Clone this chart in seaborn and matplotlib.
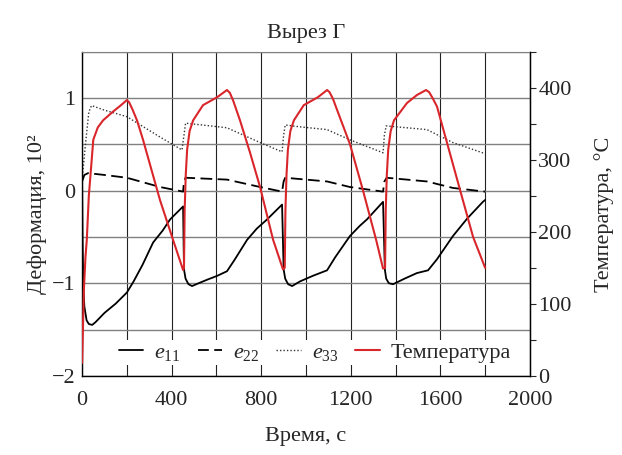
import numpy as np
import pandas as pd
import matplotlib
matplotlib.use("Agg")
import matplotlib.pyplot as plt
import seaborn as sns
from matplotlib.ticker import MultipleLocator
from matplotlib.lines import Line2D

sns.set_style("white")
plt.rcParams["font.family"] = ["Liberation Serif", "DejaVu Serif"]
plt.rcParams["mathtext.fontset"] = "custom"
plt.rcParams["mathtext.rm"] = "Liberation Serif"
plt.rcParams["mathtext.it"] = "Liberation Serif:italic"

# ---- data ----
t_e11 = [0, 2, 5, 10, 20, 30, 45, 60, 100, 150, 200, 230, 270, 317, 360, 393, 451,
         455, 462, 475, 491, 520, 560, 603, 647, 680, 737, 780, 826, 893,
         900, 907, 920, 938, 973, 1030, 1094, 1130, 1196, 1240, 1272, 1344,
         1352, 1358, 1370, 1389, 1440, 1495, 1545, 1585, 1656, 1720, 1790, 1800]
e11 = [0.12, -0.5, -1.0, -1.25, -1.4, -1.44, -1.45, -1.42, -1.32, -1.22, -1.10, -0.98, -0.80, -0.56, -0.43, -0.31, -0.17,
       -0.85, -0.95, -1.01, -1.03, -1.00, -0.96, -0.92, -0.87, -0.75, -0.53, -0.41, -0.31, -0.15,
       -0.85, -0.95, -1.01, -1.03, -0.98, -0.92, -0.86, -0.72, -0.49, -0.38, -0.31, -0.12,
       -0.85, -0.95, -1.00, -1.01, -0.95, -0.89, -0.86, -0.74, -0.49, -0.30, -0.12, -0.10]

t_e22 = [0, 10, 27, 100, 200, 348, 451, 455, 462, 647, 795, 893, 900, 907, 1094, 1196, 1344,
         1350, 1360, 1540, 1656, 1800]
e22 = [0.10, 0.17, 0.19, 0.17, 0.14, 0.04, -0.01, 0.10, 0.14, 0.12, 0.04, -0.01, 0.10, 0.14, 0.10, 0.04, -0.01,
       0.10, 0.14, 0.10, 0.03, -0.01]

t_e33 = [0, 15, 30, 42, 100, 200, 348, 446, 455, 462, 647, 795, 893, 900, 907, 973, 1094, 1196, 1344,
         1350, 1358, 1540, 1656, 1800]
e33 = [0.12, 0.50, 0.85, 0.92, 0.87, 0.80, 0.58, 0.44, 0.60, 0.73, 0.68, 0.52, 0.42, 0.60, 0.71, 0.69, 0.66, 0.55, 0.41,
       0.60, 0.70, 0.66, 0.52, 0.40]

t_temp = [0, 8, 15, 21, 30, 50, 70, 94, 138, 170, 200, 210, 225, 245, 272, 348, 406, 451,
          455, 458, 463, 469, 480, 496, 540, 603, 647, 660, 675, 705, 750, 795, 853, 897,
          905, 908, 913, 919, 930, 946, 990, 1053, 1094, 1105, 1120, 1150, 1196, 1254, 1313, 1344,
          1353, 1356, 1361, 1367, 1378, 1393, 1451, 1495, 1536, 1550, 1565, 1585, 1688, 1746, 1800]
temp = [18, 120, 165, 189, 250, 328, 345, 355, 367, 375, 383, 380, 370, 355, 328, 244, 189, 147,
        150, 230, 280, 314, 340, 355, 376, 387, 397, 393, 382, 355, 310, 262, 189, 148,
        150, 230, 280, 314, 340, 355, 376, 387, 397, 394, 385, 360, 322, 258, 189, 149,
        150, 230, 280, 314, 340, 355, 379, 390, 397, 394, 386, 374, 258, 193, 150]

labels = ["$e_{11}$", "$e_{22}$", "$e_{33}$", "Температура"]
x_ticks = [0, 400, 800, 1200, 1600, 2000]

# ---- figure ----
fig, ax = plt.subplots(figsize=(6.22, 4.55), dpi=100)
fig.subplots_adjust(left=0.132, right=0.852, bottom=0.174, top=0.886)
ax2 = ax.twinx()

red = "#d9262b"
sns.lineplot(x=t_e11, y=e11, ax=ax, color="black", lw=1.3, estimator=None, sort=False)
sns.lineplot(x=t_e22, y=e22, ax=ax, color="black", lw=1.3, linestyle=(0, (6.5, 3)), estimator=None, sort=False)
sns.lineplot(x=t_e33, y=e33, ax=ax, color="#333333", lw=1.0, linestyle=(0, (1, 1.5)), estimator=None, sort=False)
sns.lineplot(x=t_temp, y=temp, ax=ax2, color=red, lw=1.5, estimator=None, sort=False)

ax.set_xlim(0, 2000)
ax.set_ylim(-2, 1.5)
ax2.set_ylim(0, 450)

ax.set_xticks(x_ticks)
ax.xaxis.set_minor_locator(MultipleLocator(200))
ax.yaxis.set_major_locator(MultipleLocator(1))
ax.yaxis.set_minor_locator(MultipleLocator(0.5))
ax.grid(which="both", axis="x", color="#222222", lw=0.8)
ax.grid(which="both", axis="y", color="#808080", lw=1.0)
ax.set_axisbelow(True)
ax.tick_params(which="both", length=0, labelsize=16)
ax.tick_params(axis="x", pad=11)
ax.tick_params(axis="y", pad=5)

ax2.yaxis.set_major_locator(MultipleLocator(100))
ax2.yaxis.set_minor_locator(MultipleLocator(50))
ax2.tick_params(which="both", direction="out", length=4, width=0.8, labelsize=16, pad=2, right=True)
ax2.grid(False)

for s in ["left", "bottom", "right"]:
    ax.spines[s].set_color("black")
    ax.spines[s].set_linewidth(1.0)
ax.spines["top"].set_color("#808080")
ax2.spines["right"].set_color("black")
ax2.spines["top"].set_visible(False)
ax2.spines["left"].set_visible(False)
ax2.spines["bottom"].set_visible(False)

ax.set_xlabel("Время, с", fontsize=16, labelpad=12)
ax.set_ylabel("Деформация, 10²", fontsize=16, labelpad=3)
ax2.set_ylabel("Температура, °С", fontsize=16, labelpad=16)
ax.set_title("Вырез Г", fontsize=16, pad=10)

handles = [
    Line2D([], [], color="black", lw=1.3),
    Line2D([], [], color="black", lw=1.3, linestyle=(0, (6, 3))),
    Line2D([], [], color="#333333", lw=1.0, linestyle=(0, (1, 1.5))),
    Line2D([], [], color=red, lw=1.5),
]
leg = ax2.legend(handles, labels, loc="center", bbox_to_anchor=(0.52, 0.071), ncol=4,
                 fontsize=16, frameon=True, framealpha=1, edgecolor="white", fancybox=False,
                 handlelength=1.1, handletextpad=0.5, columnspacing=0.75, borderpad=0.1,
                 borderaxespad=0)
leg.get_frame().set_linewidth(0)

fig.savefig("out.png", dpi=100)
